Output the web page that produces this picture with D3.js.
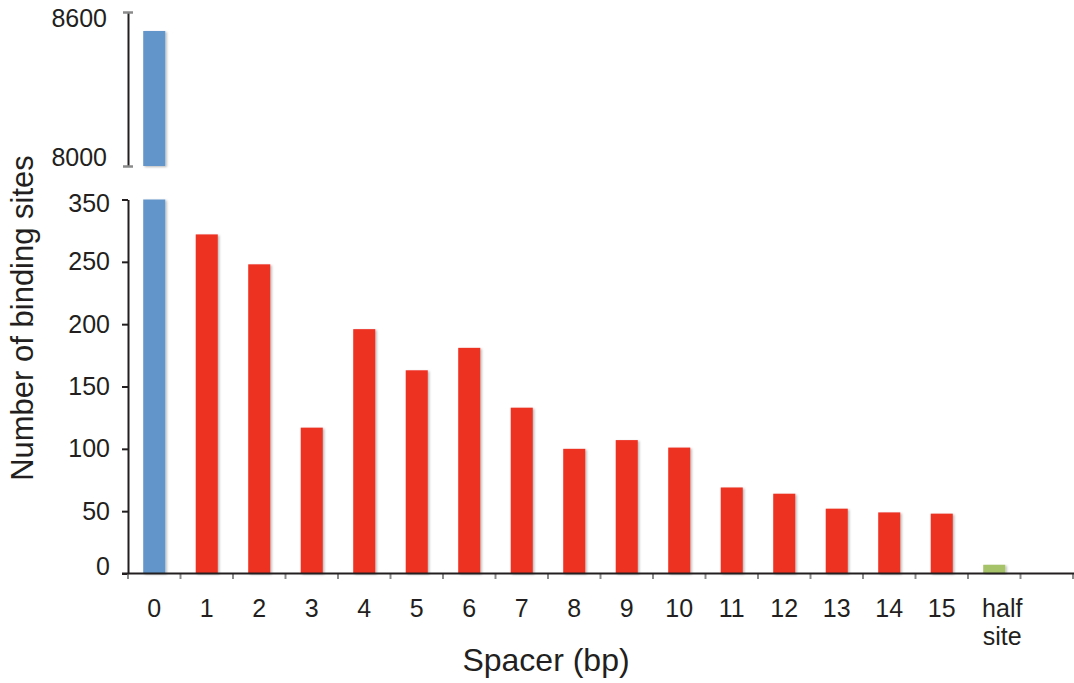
<!DOCTYPE html>
<html>
<head>
<meta charset="utf-8">
<script src="https://cdn.jsdelivr.net/npm/d3@7"></script>
<style>
  body { margin: 0; background: #fff; }
  text { font-family: "Liberation Sans", Arial, sans-serif; fill: #231f20; }
</style>
</head>
<body>
<svg id="chartsvg" width="1074" height="683"></svg>
<script>
// data
var categories = ["0","1","2","3","4","5","6","7","8","9","10","11","12","13","14","15","half site"];
var counts = [8526, 272, 248, 117, 196, 163, 181, 133, 100, 107, 101, 69, 64, 52, 49, 48, 7];
var barColors = ["#6295c9","#ee3124","#ee3124","#ee3124","#ee3124","#ee3124","#ee3124","#ee3124",
  "#ee3124","#ee3124","#ee3124","#ee3124","#ee3124","#ee3124","#ee3124","#ee3124","#a6c36a"];
var lowTickValues = [0, 50, 100, 150, 200, 250, 300];
var lowTickLabels = ["0", "50", "100", "150", "200", "250", "350"];
var highTickValues = [8000, 8600];

var axisX = 128, baseY = 573.5;
var svg = d3.select("#chartsvg");

// soft shadow under the bars
var f = svg.append("defs").append("filter").attr("id", "shadow")
  .attr("x", "-20%").attr("y", "-5%").attr("width", "150%").attr("height", "115%");
f.append("feDropShadow").attr("dx", 1.5).attr("dy", 1).attr("stdDeviation", 1)
  .attr("flood-color", "#000").attr("flood-opacity", 0.28);

//x: one spare empty slot after "half site"
var x = d3.scaleBand().domain(categories.concat([""]))
  .range([axisX, 1073]).paddingInner(0.58).paddingOuter(0.29);
var step = x.step();

//two y scales for the broken axis
var yLow = d3.scaleLinear().domain([0, 300]).range([baseY, 199.5]);
var yHigh = d3.scaleLinear().domain([8000, 8600]).range([166, 12]);

var data = categories.map(function(c, i) { return {cat: c, v: counts[i], col: barColors[i]}; });

//lower panel bars (clipped at the top of the lower axis)
svg.append("g").selectAll("rect").data(data).join("rect")
  .attr("x", function(d) { return x(d.cat); })
  .attr("width", x.bandwidth())
  .attr("y", function(d) { return yLow(Math.min(d.v, 300)); })
  .attr("height", function(d) { return baseY - yLow(Math.min(d.v, 300)); })
  .attr("fill", function(d) { return d.col; })
  .attr("filter", "url(#shadow)");

//upper panel bars
svg.append("g").selectAll("rect").data(data.filter(function(d) { return d.v > 8000; })).join("rect")
  .attr("x", function(d) { return x(d.cat); })
  .attr("width", x.bandwidth())
  .attr("y", function(d) { return yHigh(d.v); })
  .attr("height", function(d) { return yHigh(8000) - yHigh(d.v); })
  .attr("fill", function(d) { return d.col; })
  .attr("filter", "url(#shadow)");

//lower y axis
var gLow = svg.append("g").attr("transform", "translate(" + axisX + ",0)")
  .call(d3.axisLeft(yLow).tickValues(lowTickValues).tickSize(6).tickSizeOuter(0).tickPadding(12)
    .tickFormat(function(d, i) { return lowTickLabels[i]; }));
gLow.select(".domain").attr("stroke", "#231f20").attr("stroke-width", 2);
gLow.selectAll(".tick line").attr("stroke", "#231f20").attr("stroke-width", 2);
gLow.selectAll(".tick text").style("font-size", "25px").style("font-family", "Liberation Sans, Arial, sans-serif")
  .attr("fill", "#231f20")
  .attr("y", function(d) { return d === 0 ? -7 : (d === 300 ? 4 : 0); }); // labels sit inward at the ends

//upper y axis
var gHigh = svg.append("g").attr("transform", "translate(" + axisX + ",0)")
  .call(d3.axisLeft(yHigh).tickValues(highTickValues).tickSize(0).tickSizeOuter(0).tickPadding(21)
    .tickFormat(d3.format("d")));
gHigh.select(".domain").attr("stroke", "#231f20").attr("stroke-width", 2);
gHigh.selectAll(".tick text").style("font-size", "25px").style("font-family", "Liberation Sans, Arial, sans-serif")
  .attr("fill", "#231f20")
  .attr("y", function(d) { return d === 8600 ? 6.5 : -9; });
gHigh.selectAll(".tick").append("line").attr("x1", -5).attr("x2", 5)
  .attr("stroke", "#8a8a8a").attr("stroke-width", 2.5);

//x axis: baseline, gray boundary ticks, labels
var slots = d3.range(categories.length + 2);
svg.append("g").selectAll("line").data(slots).join("line")
  .attr("x1", function(i) { return axisX + i * step; })
  .attr("x2", function(i) { return axisX + i * step; })
  .attr("y1", baseY).attr("y2", baseY + 5.5)
  .attr("stroke", "#8a8a8a").attr("stroke-width", 2);
svg.append("line").attr("x1", axisX - 6).attr("x2", 1074).attr("y1", baseY).attr("y2", baseY)
  .attr("stroke", "#231f20").attr("stroke-width", 2);

var gx = svg.append("g").attr("transform", "translate(0," + baseY + ")")
  .call(d3.axisBottom(x).tickValues(categories).tickSize(0).tickPadding(0).tickFormat(""));
gx.select(".domain").remove();
gx.selectAll(".tick").append("text")
  .style("font-size", "25px").attr("text-anchor", "middle")
  .selectAll("tspan").data(function(d) { return d.split(" "); }).join("tspan")
  .attr("x", function(d, i, n) { return n.length > 1 ? 8 : 0; })  // two-line label sits a bit right
  .attr("y", function(d, i) { return 43 + i * 28; })
  .text(function(d) { return d; });

//axis titles
svg.append("text").attr("x", 546).attr("y", 671).attr("text-anchor", "middle")
  .style("font-size", "32px").text("Spacer (bp)");
svg.append("text").attr("transform", "translate(33,318)rotate(-90)").attr("text-anchor", "middle")
  .style("font-size", "31px").text("Number of binding sites");
</script>
</body>
</html>
